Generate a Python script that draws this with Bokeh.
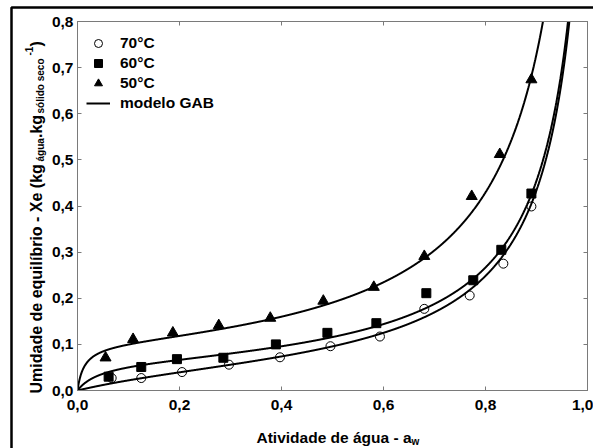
import math
import numpy as np
from bokeh.plotting import figure
from bokeh.models import (Label, Legend, LegendItem, LinearAxis, FixedTicker,
                          CustomJSTickFormatter, Range1d)
from bokeh.embed import file_html
from bokeh.resources import INLINE

# Equilibrium moisture measurements (water activity aw, Xe in kg water / kg dry solid)
aw_70 = [0.067, 0.125, 0.205, 0.297, 0.397, 0.496, 0.593, 0.680, 0.769, 0.835, 0.890]
xe_70 = [0.027, 0.027, 0.040, 0.056, 0.072, 0.096, 0.117, 0.177, 0.206, 0.275, 0.399]

aw_60 = [0.061, 0.125, 0.195, 0.286, 0.389, 0.490, 0.586, 0.684, 0.776, 0.831, 0.890]
xe_60 = [0.030, 0.051, 0.068, 0.071, 0.100, 0.125, 0.146, 0.211, 0.239, 0.305, 0.427]

aw_50 = [0.055, 0.109, 0.187, 0.277, 0.378, 0.482, 0.581, 0.680, 0.773, 0.828, 0.890]
xe_50 = [0.071, 0.111, 0.125, 0.141, 0.157, 0.194, 0.224, 0.291, 0.421, 0.512, 0.674]

# GAB isotherm parameters per temperature: Xm, C, K
gab_labels = ["70°C", "60°C", "50°C"]
gab_xm = [0.062, 0.0631, 0.1007]
gab_c = [4.46, 24.0, 80.0]
gab_k = [0.958, 0.958, 0.958]

x_ticks = [0.0, 0.2, 0.4, 0.6, 0.8, 1.0]
y_ticks = [0.0, 0.1, 0.2, 0.3, 0.4, 0.5, 0.6, 0.7, 0.8]

FONT = "Liberation Sans"
GRAY = "#7a7a7a"
W, H = 593, 448

# chart: frame spans page pixels x 77..587, y 21..390
p = figure(width=W, height=440, x_range=Range1d(0, 1), y_range=Range1d(0, 0.8),
           output_backend="svg", toolbar_location=None,
           min_border_left=77, min_border_right=6, min_border_top=21, min_border_bottom=50)
p.xgrid.visible = False
p.ygrid.visible = False
p.outline_line_color = GRAY
p.outline_line_width = 1
p.background_fill_color = "white"
p.border_fill_color = "white"

fmt = CustomJSTickFormatter(code="return tick.toFixed(1).replace('.', ',');")
blank = CustomJSTickFormatter(code="return '';")


def style_axis(ax, ticks, standoff, show_labels=True):
    ax.ticker = FixedTicker(ticks=ticks)
    ax.formatter = fmt if show_labels else blank
    ax.major_tick_in = 4
    ax.major_tick_out = 0
    ax.minor_tick_line_color = None
    ax.axis_line_color = GRAY
    ax.major_tick_line_color = GRAY
    ax.major_label_standoff = standoff
    ax.major_label_text_font = FONT
    ax.major_label_text_font_style = "bold"
    ax.major_label_text_color = "black"
    ax.major_label_text_font_size = "15.5px"


style_axis(p.xaxis[0], x_ticks, 9)
style_axis(p.yaxis[0], y_ticks, 4)
top_axis = LinearAxis()
style_axis(top_axis, x_ticks, 0, show_labels=False)
p.add_layout(top_axis, "above")
right_axis = LinearAxis()
style_axis(right_axis, y_ticks, 0, show_labels=False)
p.add_layout(right_axis, "right")

# GAB model curves
gab_renderers = []
for xm, c, k in zip(gab_xm, gab_c, gab_k):
    a = np.linspace(0.0, 0.999 / k, 3000)
    ka = k * a
    xe = xm * c * ka / ((1 - ka) * (1 - ka + c * ka))
    keep = xe <= 1.0
    r = p.line(a[keep], xe[keep], line_color="black", line_width=2)
    gab_renderers.append(r)

r70 = p.scatter(aw_70, xe_70, marker="circle", size=9, fill_color=None,
                line_color="black", line_width=1)
r60 = p.scatter(aw_60, xe_60, marker="square", size=9, fill_color="black",
                line_color="black")
r50 = p.scatter(aw_50, xe_50, marker="triangle", size=11, fill_color="black",
                line_color="black")

legend = Legend(items=[
    LegendItem(label="70°C", renderers=[r70]),
    LegendItem(label="60°C", renderers=[r60]),
    LegendItem(label="50°C", renderers=[r50]),
    LegendItem(label="modelo GAB", renderers=[gab_renderers[0]]),
], location=(9, 277))
legend.margin = 0
legend.padding = 0
legend.spacing = 0
legend.glyph_width = 24
legend.glyph_height = 20
legend.label_height = 20
legend.label_standoff = 10
legend.label_text_font = FONT
legend.label_text_font_style = "bold"
legend.label_text_font_size = "15.5px"
legend.label_text_color = "black"
legend.background_fill_alpha = 0
legend.border_line_color = None
p.add_layout(legend)

# Transparent overlay in page pixels for the axis titles and the outer border
t = figure(width=W, height=H, x_range=Range1d(0, W), y_range=Range1d(0, H),
           output_backend="svg", toolbar_location=None,
           x_axis_location=None, y_axis_location=None, min_border=0)
t.xgrid.visible = False
t.ygrid.visible = False
t.outline_line_color = None
t.background_fill_alpha = 0
t.border_fill_alpha = 0
t.styles = {"position": "absolute", "left": "0px", "top": "0px"}

t.line([11, 11, W], [0, H - 7, H - 7], line_color="black", line_width=2.5)


def txt(s, px, py, size, angle=0.0):
    t.add_layout(Label(x=px, y=H - py, text=s, angle=angle, text_font=FONT,
                       text_font_style="bold", text_font_size=size,
                       text_color="black", text_align="left",
                       text_baseline="alphabetic"))


# x axis title with subscript
txt("Atividade de água - a", 256, 437, "15.5px")
txt("w", 411, 441, "10px")

# y axis title, read bottom to top, with sub/superscripts
rot = math.pi / 2
txt("Umidade de equilíbrio - Xe (kg", 36, 393, "16px", rot)
txt("água", 39.5, 161, "10px", rot)
txt(".kg", 36, 137.5, "16px", rot)
txt("sólido seco", 39.5, 113, "10px", rot)
txt("-1", 28, 55, "10px", rot)
txt(")", 36, 46, "16px", rot)

page_css = """
{% block preamble %}
<style>html, body { margin: 0; padding: 0; overflow: hidden; }</style>
{% endblock %}
"""

open("out.html", "w").write(file_html([p, t], INLINE, template=page_css))
